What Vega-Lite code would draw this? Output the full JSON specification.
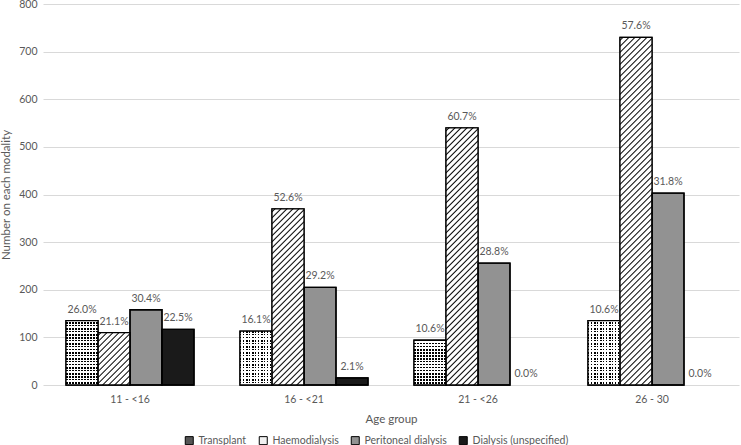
{
  "$schema": "https://vega.github.io/schema/vega-lite/v6.json",
  "width": 696,
  "height": 381,
  "autosize": {"type": "none"},
  "padding": {"left": 43, "top": 4, "right": 2, "bottom": 60},
  "background": "#ffffff",
  "config": {
    "view": {"stroke": null},
    "font": "Lato",
    "axisY": {"domain": false, "ticks": false, "grid": true, "gridColor": "#d9d9d9", "gridWidth": 1, "labelColor": "#595959", "labelFontSize": 10.5, "labelPadding": 6, "titleColor": "#595959", "titleFontSize": 11.5, "titleFontWeight": "normal", "titlePadding": 7},
    "axisX": {"domain": false, "ticks": false, "grid": false, "labelAngle": 0, "labelColor": "#595959", "labelFontSize": 10.5, "labelPadding": 9, "titleColor": "#595959", "titleFontSize": 11.5, "titleFontWeight": "normal", "titlePadding": 9}
  },
  "data": {"values": [
    {"group": "11 - <16", "modality": "Transplant", "value": 135, "pct": "26.0%"},
    {"group": "11 - <16", "modality": "Haemodialysis", "value": 110, "pct": "21.1%"},
    {"group": "11 - <16", "modality": "Peritoneal dialysis", "value": 158, "pct": "30.4%"},
    {"group": "11 - <16", "modality": "Dialysis (unspecified)", "value": 117, "pct": "22.5%"},
    {"group": "16 - <21", "modality": "Transplant", "value": 113, "pct": "16.1%"},
    {"group": "16 - <21", "modality": "Haemodialysis", "value": 370, "pct": "52.6%"},
    {"group": "16 - <21", "modality": "Peritoneal dialysis", "value": 205, "pct": "29.2%"},
    {"group": "16 - <21", "modality": "Dialysis (unspecified)", "value": 15, "pct": "2.1%"},
    {"group": "21 - <26", "modality": "Transplant", "value": 94, "pct": "10.6%"},
    {"group": "21 - <26", "modality": "Haemodialysis", "value": 540, "pct": "60.7%"},
    {"group": "21 - <26", "modality": "Peritoneal dialysis", "value": 256, "pct": "28.8%"},
    {"group": "21 - <26", "modality": "Dialysis (unspecified)", "value": 0, "pct": "0.0%"},
    {"group": "26 - 30", "modality": "Transplant", "value": 135, "pct": "10.6%"},
    {"group": "26 - 30", "modality": "Haemodialysis", "value": 730, "pct": "57.6%"},
    {"group": "26 - 30", "modality": "Peritoneal dialysis", "value": 403, "pct": "31.8%"},
    {"group": "26 - 30", "modality": "Dialysis (unspecified)", "value": 0, "pct": "0.0%"}
  ]},
  "encoding": {
    "x": {"field": "group", "type": "nominal", "sort": ["11 - <16", "16 - <21", "21 - <26", "26 - 30"], "scale": {"paddingInner": 0.264368, "paddingOuter": 0.132184}, "title": "Age group"},
    "xOffset": {"field": "modality", "type": "nominal", "sort": ["Transplant", "Haemodialysis", "Peritoneal dialysis", "Dialysis (unspecified)"], "scale": {"paddingInner": 0, "paddingOuter": 0}},
    "y": {"field": "value", "type": "quantitative", "scale": {"domain": [0, 800], "nice": false}, "axis": {"values": [0, 100, 200, 300, 400, 500, 600, 700, 800]}, "title": "Number on each modality"}
  },
  "layer": [
    {
      "transform": [{"filter": "datum.value > 0"}],
      "mark": {"type": "bar", "stroke": "#000000", "strokeWidth": 1.3},
      "encoding": {
        "color": {
          "field": "modality", "type": "nominal",
          "sort": ["Transplant", "Haemodialysis", "Peritoneal dialysis", "Dialysis (unspecified)"],
          "scale": {"domain": ["Transplant", "Haemodialysis", "Peritoneal dialysis", "Dialysis (unspecified)"], "range": ["#555555", "#f0f0f0", "#929292", "#1a1a1a"]},
          "legend": {
            "title": null, "orient": "none", "direction": "horizontal", "legendX": 141, "legendY": 431,
            "symbolType": "square", "symbolSize": 64, "symbolStrokeColor": "#000000", "symbolStrokeWidth": 1,
            "labelColor": "#595959", "labelFontSize": 10.5, "labelOffset": 4, "columnPadding": 10,
            "encode": {"symbols": {"update": {"stroke": {"value": "#000000"}, "strokeWidth": {"value": 1}}}}
          }
        }
      }
    },
    {
      "transform": [{"filter": "datum.modality === 'Transplant'"}],
      "mark": {"type": "bar", "strokeWidth": 0, "fill": {"gradient": "linear", "x1": 0, "y1": 0, "x2": 1, "y2": 0, "stops": [{"offset":0,"color":"#000"},{"offset":0.046875,"color":"#000"},{"offset":0.046875,"color":"#fff"},{"offset":0.09375,"color":"#fff"},{"offset":0.09375,"color":"#000"},{"offset":0.140625,"color":"#000"},{"offset":0.140625,"color":"#fff"},{"offset":0.1875,"color":"#fff"},{"offset":0.1875,"color":"#000"},{"offset":0.234375,"color":"#000"},{"offset":0.234375,"color":"#fff"},{"offset":0.28125,"color":"#fff"},{"offset":0.28125,"color":"#000"},{"offset":0.328125,"color":"#000"},{"offset":0.328125,"color":"#fff"},{"offset":0.375,"color":"#fff"},{"offset":0.375,"color":"#000"},{"offset":0.421875,"color":"#000"},{"offset":0.421875,"color":"#fff"},{"offset":0.46875,"color":"#fff"},{"offset":0.46875,"color":"#000"},{"offset":0.515625,"color":"#000"},{"offset":0.515625,"color":"#fff"},{"offset":0.5625,"color":"#fff"},{"offset":0.5625,"color":"#000"},{"offset":0.609375,"color":"#000"},{"offset":0.609375,"color":"#fff"},{"offset":0.65625,"color":"#fff"},{"offset":0.65625,"color":"#000"},{"offset":0.703125,"color":"#000"},{"offset":0.703125,"color":"#fff"},{"offset":0.75,"color":"#fff"},{"offset":0.75,"color":"#000"},{"offset":0.796875,"color":"#000"},{"offset":0.796875,"color":"#fff"},{"offset":0.84375,"color":"#fff"},{"offset":0.84375,"color":"#000"},{"offset":0.890625,"color":"#000"},{"offset":0.890625,"color":"#fff"},{"offset":0.9375,"color":"#fff"},{"offset":0.9375,"color":"#000"},{"offset":0.984375,"color":"#000"},{"offset":0.984375,"color":"#fff"},{"offset":1,"color":"#fff"}]}}
    },
    {
      "transform": [{"filter": "datum.modality === 'Transplant' && (datum.group === '11 - <16' || datum.group === '26 - 30')"}],
      "mark": {"type": "bar", "strokeWidth": 0, "fill": {"gradient": "linear", "x1": 0, "y1": 1, "x2": 0, "y2": 0, "stops": [
        {"offset":0,"color":"rgba(255,255,255,0)"},{"offset":0,"color":"#fff"},{"offset":0.0233,"color":"#fff"},{"offset":0.0233,"color":"rgba(255,255,255,0)"},
        {"offset":0.0467,"color":"rgba(255,255,255,0)"},{"offset":0.0467,"color":"#fff"},{"offset":0.0700,"color":"#fff"},{"offset":0.0700,"color":"rgba(255,255,255,0)"},
        {"offset":0.0933,"color":"rgba(255,255,255,0)"},{"offset":0.0933,"color":"#fff"},{"offset":0.1166,"color":"#fff"},{"offset":0.1166,"color":"rgba(255,255,255,0)"},
        {"offset":0.1400,"color":"rgba(255,255,255,0)"},{"offset":0.1400,"color":"#fff"},{"offset":0.1633,"color":"#fff"},{"offset":0.1633,"color":"rgba(255,255,255,0)"},
        {"offset":0.1866,"color":"rgba(255,255,255,0)"},{"offset":0.1866,"color":"#fff"},{"offset":0.2100,"color":"#fff"},{"offset":0.2100,"color":"rgba(255,255,255,0)"},
        {"offset":0.2333,"color":"rgba(255,255,255,0)"},{"offset":0.2333,"color":"#fff"},{"offset":0.2566,"color":"#fff"},{"offset":0.2566,"color":"rgba(255,255,255,0)"},
        {"offset":0.2800,"color":"rgba(255,255,255,0)"},{"offset":0.2800,"color":"#fff"},{"offset":0.3033,"color":"#fff"},{"offset":0.3033,"color":"rgba(255,255,255,0)"},
        {"offset":0.3266,"color":"rgba(255,255,255,0)"},{"offset":0.3266,"color":"#fff"},{"offset":0.3500,"color":"#fff"},{"offset":0.3500,"color":"rgba(255,255,255,0)"},
        {"offset":0.3733,"color":"rgba(255,255,255,0)"},{"offset":0.3733,"color":"#fff"},{"offset":0.3966,"color":"#fff"},{"offset":0.3966,"color":"rgba(255,255,255,0)"},
        {"offset":0.4199,"color":"rgba(255,255,255,0)"},{"offset":0.4199,"color":"#fff"},{"offset":0.4433,"color":"#fff"},{"offset":0.4433,"color":"rgba(255,255,255,0)"},
        {"offset":0.4666,"color":"rgba(255,255,255,0)"},{"offset":0.4666,"color":"#fff"},{"offset":0.4899,"color":"#fff"},{"offset":0.4899,"color":"rgba(255,255,255,0)"},
        {"offset":0.5133,"color":"rgba(255,255,255,0)"},{"offset":0.5133,"color":"#fff"},{"offset":0.5366,"color":"#fff"},{"offset":0.5366,"color":"rgba(255,255,255,0)"},
        {"offset":0.5599,"color":"rgba(255,255,255,0)"},{"offset":0.5599,"color":"#fff"},{"offset":0.5833,"color":"#fff"},{"offset":0.5833,"color":"rgba(255,255,255,0)"},
        {"offset":0.6066,"color":"rgba(255,255,255,0)"},{"offset":0.6066,"color":"#fff"},{"offset":0.6299,"color":"#fff"},{"offset":0.6299,"color":"rgba(255,255,255,0)"},
        {"offset":0.6533,"color":"rgba(255,255,255,0)"},{"offset":0.6533,"color":"#fff"},{"offset":0.6766,"color":"#fff"},{"offset":0.6766,"color":"rgba(255,255,255,0)"},
        {"offset":0.6999,"color":"rgba(255,255,255,0)"},{"offset":0.6999,"color":"#fff"},{"offset":0.7232,"color":"#fff"},{"offset":0.7232,"color":"rgba(255,255,255,0)"},
        {"offset":0.7466,"color":"rgba(255,255,255,0)"},{"offset":0.7466,"color":"#fff"},{"offset":0.7699,"color":"#fff"},{"offset":0.7699,"color":"rgba(255,255,255,0)"},
        {"offset":0.7932,"color":"rgba(255,255,255,0)"},{"offset":0.7932,"color":"#fff"},{"offset":0.8166,"color":"#fff"},{"offset":0.8166,"color":"rgba(255,255,255,0)"},
        {"offset":0.8399,"color":"rgba(255,255,255,0)"},{"offset":0.8399,"color":"#fff"},{"offset":0.8632,"color":"#fff"},{"offset":0.8632,"color":"rgba(255,255,255,0)"},
        {"offset":0.8866,"color":"rgba(255,255,255,0)"},{"offset":0.8866,"color":"#fff"},{"offset":0.9099,"color":"#fff"},{"offset":0.9099,"color":"rgba(255,255,255,0)"},
        {"offset":0.9332,"color":"rgba(255,255,255,0)"},{"offset":0.9332,"color":"#fff"},{"offset":0.9565,"color":"#fff"},{"offset":0.9565,"color":"rgba(255,255,255,0)"},
        {"offset":0.9799,"color":"rgba(255,255,255,0)"},{"offset":0.9799,"color":"#fff"},{"offset":1,"color":"#fff"}
      ]}}
    },
    {
      "transform": [{"filter": "datum.modality === 'Transplant' && datum.group === '16 - <21'"}],
      "mark": {"type": "bar", "strokeWidth": 0, "fill": {"gradient": "linear", "x1": 0, "y1": 1, "x2": 0, "y2": 0, "stops": [
        {"offset":0,"color":"rgba(255,255,255,0)"},{"offset":0,"color":"#fff"},{"offset":0.0279,"color":"#fff"},{"offset":0.0279,"color":"rgba(255,255,255,0)"},
        {"offset":0.0557,"color":"rgba(255,255,255,0)"},{"offset":0.0557,"color":"#fff"},{"offset":0.0836,"color":"#fff"},{"offset":0.0836,"color":"rgba(255,255,255,0)"},
        {"offset":0.1115,"color":"rgba(255,255,255,0)"},{"offset":0.1115,"color":"#fff"},{"offset":0.1394,"color":"#fff"},{"offset":0.1394,"color":"rgba(255,255,255,0)"},
        {"offset":0.1672,"color":"rgba(255,255,255,0)"},{"offset":0.1672,"color":"#fff"},{"offset":0.1951,"color":"#fff"},{"offset":0.1951,"color":"rgba(255,255,255,0)"},
        {"offset":0.2230,"color":"rgba(255,255,255,0)"},{"offset":0.2230,"color":"#fff"},{"offset":0.2509,"color":"#fff"},{"offset":0.2509,"color":"rgba(255,255,255,0)"},
        {"offset":0.2787,"color":"rgba(255,255,255,0)"},{"offset":0.2787,"color":"#fff"},{"offset":0.3066,"color":"#fff"},{"offset":0.3066,"color":"rgba(255,255,255,0)"},
        {"offset":0.3345,"color":"rgba(255,255,255,0)"},{"offset":0.3345,"color":"#fff"},{"offset":0.3623,"color":"#fff"},{"offset":0.3623,"color":"rgba(255,255,255,0)"},
        {"offset":0.3902,"color":"rgba(255,255,255,0)"},{"offset":0.3902,"color":"#fff"},{"offset":0.4181,"color":"#fff"},{"offset":0.4181,"color":"rgba(255,255,255,0)"},
        {"offset":0.4460,"color":"rgba(255,255,255,0)"},{"offset":0.4460,"color":"#fff"},{"offset":0.4738,"color":"#fff"},{"offset":0.4738,"color":"rgba(255,255,255,0)"},
        {"offset":0.5017,"color":"rgba(255,255,255,0)"},{"offset":0.5017,"color":"#fff"},{"offset":0.5296,"color":"#fff"},{"offset":0.5296,"color":"rgba(255,255,255,0)"},
        {"offset":0.5575,"color":"rgba(255,255,255,0)"},{"offset":0.5575,"color":"#fff"},{"offset":0.5853,"color":"#fff"},{"offset":0.5853,"color":"rgba(255,255,255,0)"},
        {"offset":0.6132,"color":"rgba(255,255,255,0)"},{"offset":0.6132,"color":"#fff"},{"offset":0.6411,"color":"#fff"},{"offset":0.6411,"color":"rgba(255,255,255,0)"},
        {"offset":0.6689,"color":"rgba(255,255,255,0)"},{"offset":0.6689,"color":"#fff"},{"offset":0.6968,"color":"#fff"},{"offset":0.6968,"color":"rgba(255,255,255,0)"},
        {"offset":0.7247,"color":"rgba(255,255,255,0)"},{"offset":0.7247,"color":"#fff"},{"offset":0.7526,"color":"#fff"},{"offset":0.7526,"color":"rgba(255,255,255,0)"},
        {"offset":0.7804,"color":"rgba(255,255,255,0)"},{"offset":0.7804,"color":"#fff"},{"offset":0.8083,"color":"#fff"},{"offset":0.8083,"color":"rgba(255,255,255,0)"},
        {"offset":0.8362,"color":"rgba(255,255,255,0)"},{"offset":0.8362,"color":"#fff"},{"offset":0.8641,"color":"#fff"},{"offset":0.8641,"color":"rgba(255,255,255,0)"},
        {"offset":0.8919,"color":"rgba(255,255,255,0)"},{"offset":0.8919,"color":"#fff"},{"offset":0.9198,"color":"#fff"},{"offset":0.9198,"color":"rgba(255,255,255,0)"},
        {"offset":0.9477,"color":"rgba(255,255,255,0)"},{"offset":0.9477,"color":"#fff"},{"offset":0.9755,"color":"#fff"},{"offset":0.9755,"color":"rgba(255,255,255,0)"},
        {"offset":1,"color":"rgba(255,255,255,0)"}
      ]}}
    },
    {
      "transform": [{"filter": "datum.modality === 'Transplant' && datum.group === '21 - <26'"}],
      "mark": {"type": "bar", "strokeWidth": 0, "fill": {"gradient": "linear", "x1": 0, "y1": 1, "x2": 0, "y2": 0, "stops": [
        {"offset":0,"color":"rgba(255,255,255,0)"},{"offset":0,"color":"#fff"},{"offset":0.0335,"color":"#fff"},{"offset":0.0335,"color":"rgba(255,255,255,0)"},
        {"offset":0.0670,"color":"rgba(255,255,255,0)"},{"offset":0.0670,"color":"#fff"},{"offset":0.1005,"color":"#fff"},{"offset":0.1005,"color":"rgba(255,255,255,0)"},
        {"offset":0.1340,"color":"rgba(255,255,255,0)"},{"offset":0.1340,"color":"#fff"},{"offset":0.1675,"color":"#fff"},{"offset":0.1675,"color":"rgba(255,255,255,0)"},
        {"offset":0.2010,"color":"rgba(255,255,255,0)"},{"offset":0.2010,"color":"#fff"},{"offset":0.2345,"color":"#fff"},{"offset":0.2345,"color":"rgba(255,255,255,0)"},
        {"offset":0.2681,"color":"rgba(255,255,255,0)"},{"offset":0.2681,"color":"#fff"},{"offset":0.3016,"color":"#fff"},{"offset":0.3016,"color":"rgba(255,255,255,0)"},
        {"offset":0.3351,"color":"rgba(255,255,255,0)"},{"offset":0.3351,"color":"#fff"},{"offset":0.3686,"color":"#fff"},{"offset":0.3686,"color":"rgba(255,255,255,0)"},
        {"offset":0.4021,"color":"rgba(255,255,255,0)"},{"offset":0.4021,"color":"#fff"},{"offset":0.4356,"color":"#fff"},{"offset":0.4356,"color":"rgba(255,255,255,0)"},
        {"offset":0.4691,"color":"rgba(255,255,255,0)"},{"offset":0.4691,"color":"#fff"},{"offset":0.5026,"color":"#fff"},{"offset":0.5026,"color":"rgba(255,255,255,0)"},
        {"offset":0.5361,"color":"rgba(255,255,255,0)"},{"offset":0.5361,"color":"#fff"},{"offset":0.5696,"color":"#fff"},{"offset":0.5696,"color":"rgba(255,255,255,0)"},
        {"offset":0.6031,"color":"rgba(255,255,255,0)"},{"offset":0.6031,"color":"#fff"},{"offset":0.6366,"color":"#fff"},{"offset":0.6366,"color":"rgba(255,255,255,0)"},
        {"offset":0.6701,"color":"rgba(255,255,255,0)"},{"offset":0.6701,"color":"#fff"},{"offset":0.7036,"color":"#fff"},{"offset":0.7036,"color":"rgba(255,255,255,0)"},
        {"offset":0.7371,"color":"rgba(255,255,255,0)"},{"offset":0.7371,"color":"#fff"},{"offset":0.7706,"color":"#fff"},{"offset":0.7706,"color":"rgba(255,255,255,0)"},
        {"offset":0.8042,"color":"rgba(255,255,255,0)"},{"offset":0.8042,"color":"#fff"},{"offset":0.8377,"color":"#fff"},{"offset":0.8377,"color":"rgba(255,255,255,0)"},
        {"offset":0.8712,"color":"rgba(255,255,255,0)"},{"offset":0.8712,"color":"#fff"},{"offset":0.9047,"color":"#fff"},{"offset":0.9047,"color":"rgba(255,255,255,0)"},
        {"offset":0.9382,"color":"rgba(255,255,255,0)"},{"offset":0.9382,"color":"#fff"},{"offset":0.9717,"color":"#fff"},{"offset":0.9717,"color":"rgba(255,255,255,0)"},
        {"offset":1,"color":"rgba(255,255,255,0)"}
      ]}}
    },
    {
      "transform": [{"filter": "datum.modality === 'Haemodialysis' && datum.group === '11 - <16'"}],
      "mark": {"type": "bar", "strokeWidth": 0, "fill": {"gradient": "linear", "x1": 0, "y1": 0, "x2": 0.71658, "y2": 1.17311, "stops": [
        {"offset":0.0190,"color":"#fff"},{"offset":0.0356,"color":"#000"},{"offset":0.0521,"color":"#fff"},
        {"offset":0.0901,"color":"#fff"},{"offset":0.1067,"color":"#000"},{"offset":0.1232,"color":"#fff"},
        {"offset":0.1612,"color":"#fff"},{"offset":0.1778,"color":"#000"},{"offset":0.1943,"color":"#fff"},
        {"offset":0.2323,"color":"#fff"},{"offset":0.2489,"color":"#000"},{"offset":0.2654,"color":"#fff"},
        {"offset":0.3034,"color":"#fff"},{"offset":0.3200,"color":"#000"},{"offset":0.3365,"color":"#fff"},
        {"offset":0.3745,"color":"#fff"},{"offset":0.3911,"color":"#000"},{"offset":0.4076,"color":"#fff"},
        {"offset":0.4456,"color":"#fff"},{"offset":0.4622,"color":"#000"},{"offset":0.4787,"color":"#fff"},
        {"offset":0.5167,"color":"#fff"},{"offset":0.5333,"color":"#000"},{"offset":0.5498,"color":"#fff"},
        {"offset":0.5878,"color":"#fff"},{"offset":0.6044,"color":"#000"},{"offset":0.6209,"color":"#fff"},
        {"offset":0.6589,"color":"#fff"},{"offset":0.6755,"color":"#000"},{"offset":0.6920,"color":"#fff"},
        {"offset":0.7300,"color":"#fff"},{"offset":0.7466,"color":"#000"},{"offset":0.7631,"color":"#fff"},
        {"offset":0.8011,"color":"#fff"},{"offset":0.8177,"color":"#000"},{"offset":0.8342,"color":"#fff"},
        {"offset":0.8722,"color":"#fff"},{"offset":0.8888,"color":"#000"},{"offset":0.9053,"color":"#fff"},
        {"offset":0.9433,"color":"#fff"},{"offset":0.9599,"color":"#000"},{"offset":0.9764,"color":"#fff"}
      ]}}
    },
    {
      "transform": [{"filter": "datum.modality === 'Haemodialysis' && datum.group === '16 - <21'"}],
      "mark": {"type": "bar", "strokeWidth": 0, "fill": {"gradient": "linear", "x1": 0, "y1": 0, "x2": 0.20773, "y2": 1.14386, "stops": [
        {"offset":0.0077,"color":"#fff"},{"offset":0.0144,"color":"#000"},{"offset":0.0211,"color":"#fff"},
        {"offset":0.0365,"color":"#fff"},{"offset":0.0432,"color":"#000"},{"offset":0.0499,"color":"#fff"},
        {"offset":0.0653,"color":"#fff"},{"offset":0.0720,"color":"#000"},{"offset":0.0788,"color":"#fff"},
        {"offset":0.0941,"color":"#fff"},{"offset":0.1009,"color":"#000"},{"offset":0.1076,"color":"#fff"},
        {"offset":0.1230,"color":"#fff"},{"offset":0.1297,"color":"#000"},{"offset":0.1364,"color":"#fff"},
        {"offset":0.1518,"color":"#fff"},{"offset":0.1585,"color":"#000"},{"offset":0.1652,"color":"#fff"},
        {"offset":0.1806,"color":"#fff"},{"offset":0.1873,"color":"#000"},{"offset":0.1940,"color":"#fff"},
        {"offset":0.2094,"color":"#fff"},{"offset":0.2161,"color":"#000"},{"offset":0.2229,"color":"#fff"},
        {"offset":0.2382,"color":"#fff"},{"offset":0.2449,"color":"#000"},{"offset":0.2517,"color":"#fff"},
        {"offset":0.2670,"color":"#fff"},{"offset":0.2738,"color":"#000"},{"offset":0.2805,"color":"#fff"},
        {"offset":0.2959,"color":"#fff"},{"offset":0.3026,"color":"#000"},{"offset":0.3093,"color":"#fff"},
        {"offset":0.3247,"color":"#fff"},{"offset":0.3314,"color":"#000"},{"offset":0.3381,"color":"#fff"},
        {"offset":0.3535,"color":"#fff"},{"offset":0.3602,"color":"#000"},{"offset":0.3669,"color":"#fff"},
        {"offset":0.3823,"color":"#fff"},{"offset":0.3890,"color":"#000"},{"offset":0.3957,"color":"#fff"},
        {"offset":0.4111,"color":"#fff"},{"offset":0.4178,"color":"#000"},{"offset":0.4246,"color":"#fff"},
        {"offset":0.4399,"color":"#fff"},{"offset":0.4467,"color":"#000"},{"offset":0.4534,"color":"#fff"},
        {"offset":0.4688,"color":"#fff"},{"offset":0.4755,"color":"#000"},{"offset":0.4822,"color":"#fff"},
        {"offset":0.4976,"color":"#fff"},{"offset":0.5043,"color":"#000"},{"offset":0.5110,"color":"#fff"},
        {"offset":0.5264,"color":"#fff"},{"offset":0.5331,"color":"#000"},{"offset":0.5398,"color":"#fff"},
        {"offset":0.5552,"color":"#fff"},{"offset":0.5619,"color":"#000"},{"offset":0.5687,"color":"#fff"},
        {"offset":0.5840,"color":"#fff"},{"offset":0.5907,"color":"#000"},{"offset":0.5975,"color":"#fff"},
        {"offset":0.6128,"color":"#fff"},{"offset":0.6196,"color":"#000"},{"offset":0.6263,"color":"#fff"},
        {"offset":0.6417,"color":"#fff"},{"offset":0.6484,"color":"#000"},{"offset":0.6551,"color":"#fff"},
        {"offset":0.6705,"color":"#fff"},{"offset":0.6772,"color":"#000"},{"offset":0.6839,"color":"#fff"},
        {"offset":0.6993,"color":"#fff"},{"offset":0.7060,"color":"#000"},{"offset":0.7127,"color":"#fff"},
        {"offset":0.7281,"color":"#fff"},{"offset":0.7348,"color":"#000"},{"offset":0.7415,"color":"#fff"},
        {"offset":0.7569,"color":"#fff"},{"offset":0.7636,"color":"#000"},{"offset":0.7704,"color":"#fff"},
        {"offset":0.7857,"color":"#fff"},{"offset":0.7925,"color":"#000"},{"offset":0.7992,"color":"#fff"},
        {"offset":0.8146,"color":"#fff"},{"offset":0.8213,"color":"#000"},{"offset":0.8280,"color":"#fff"},
        {"offset":0.8434,"color":"#fff"},{"offset":0.8501,"color":"#000"},{"offset":0.8568,"color":"#fff"},
        {"offset":0.8722,"color":"#fff"},{"offset":0.8789,"color":"#000"},{"offset":0.8856,"color":"#fff"},
        {"offset":0.9010,"color":"#fff"},{"offset":0.9077,"color":"#000"},{"offset":0.9144,"color":"#fff"},
        {"offset":0.9298,"color":"#fff"},{"offset":0.9365,"color":"#000"},{"offset":0.9433,"color":"#fff"},
        {"offset":0.9586,"color":"#fff"},{"offset":0.9654,"color":"#000"},{"offset":0.9721,"color":"#fff"}
      ]}}
    },
    {
      "transform": [{"filter": "datum.modality === 'Haemodialysis' && datum.group === '21 - <26'"}],
      "mark": {"type": "bar", "strokeWidth": 0, "fill": {"gradient": "linear", "x1": 0, "y1": 0, "x2": 0.13778, "y2": 1.10729, "stops": [
        {"offset":0.0055,"color":"#fff"},{"offset":0.0104,"color":"#000"},{"offset":0.0152,"color":"#fff"},
        {"offset":0.0263,"color":"#fff"},{"offset":0.0311,"color":"#000"},{"offset":0.0360,"color":"#fff"},
        {"offset":0.0470,"color":"#fff"},{"offset":0.0519,"color":"#000"},{"offset":0.0567,"color":"#fff"},
        {"offset":0.0678,"color":"#fff"},{"offset":0.0726,"color":"#000"},{"offset":0.0775,"color":"#fff"},
        {"offset":0.0885,"color":"#fff"},{"offset":0.0934,"color":"#000"},{"offset":0.0982,"color":"#fff"},
        {"offset":0.1093,"color":"#fff"},{"offset":0.1141,"color":"#000"},{"offset":0.1190,"color":"#fff"},
        {"offset":0.1300,"color":"#fff"},{"offset":0.1349,"color":"#000"},{"offset":0.1397,"color":"#fff"},
        {"offset":0.1508,"color":"#fff"},{"offset":0.1556,"color":"#000"},{"offset":0.1605,"color":"#fff"},
        {"offset":0.1715,"color":"#fff"},{"offset":0.1764,"color":"#000"},{"offset":0.1812,"color":"#fff"},
        {"offset":0.1923,"color":"#fff"},{"offset":0.1971,"color":"#000"},{"offset":0.2020,"color":"#fff"},
        {"offset":0.2130,"color":"#fff"},{"offset":0.2179,"color":"#000"},{"offset":0.2227,"color":"#fff"},
        {"offset":0.2338,"color":"#fff"},{"offset":0.2386,"color":"#000"},{"offset":0.2435,"color":"#fff"},
        {"offset":0.2545,"color":"#fff"},{"offset":0.2594,"color":"#000"},{"offset":0.2642,"color":"#fff"},
        {"offset":0.2753,"color":"#fff"},{"offset":0.2801,"color":"#000"},{"offset":0.2849,"color":"#fff"},
        {"offset":0.2960,"color":"#fff"},{"offset":0.3009,"color":"#000"},{"offset":0.3057,"color":"#fff"},
        {"offset":0.3168,"color":"#fff"},{"offset":0.3216,"color":"#000"},{"offset":0.3264,"color":"#fff"},
        {"offset":0.3375,"color":"#fff"},{"offset":0.3424,"color":"#000"},{"offset":0.3472,"color":"#fff"},
        {"offset":0.3583,"color":"#fff"},{"offset":0.3631,"color":"#000"},{"offset":0.3679,"color":"#fff"},
        {"offset":0.3790,"color":"#fff"},{"offset":0.3839,"color":"#000"},{"offset":0.3887,"color":"#fff"},
        {"offset":0.3998,"color":"#fff"},{"offset":0.4046,"color":"#000"},{"offset":0.4094,"color":"#fff"},
        {"offset":0.4205,"color":"#fff"},{"offset":0.4253,"color":"#000"},{"offset":0.4302,"color":"#fff"},
        {"offset":0.4413,"color":"#fff"},{"offset":0.4461,"color":"#000"},{"offset":0.4509,"color":"#fff"},
        {"offset":0.4620,"color":"#fff"},{"offset":0.4668,"color":"#000"},{"offset":0.4717,"color":"#fff"},
        {"offset":0.4828,"color":"#fff"},{"offset":0.4876,"color":"#000"},{"offset":0.4924,"color":"#fff"},
        {"offset":0.5035,"color":"#fff"},{"offset":0.5083,"color":"#000"},{"offset":0.5132,"color":"#fff"},
        {"offset":0.5243,"color":"#fff"},{"offset":0.5291,"color":"#000"},{"offset":0.5339,"color":"#fff"},
        {"offset":0.5450,"color":"#fff"},{"offset":0.5498,"color":"#000"},{"offset":0.5547,"color":"#fff"},
        {"offset":0.5658,"color":"#fff"},{"offset":0.5706,"color":"#000"},{"offset":0.5754,"color":"#fff"},
        {"offset":0.5865,"color":"#fff"},{"offset":0.5913,"color":"#000"},{"offset":0.5962,"color":"#fff"},
        {"offset":0.6072,"color":"#fff"},{"offset":0.6121,"color":"#000"},{"offset":0.6169,"color":"#fff"},
        {"offset":0.6280,"color":"#fff"},{"offset":0.6328,"color":"#000"},{"offset":0.6377,"color":"#fff"},
        {"offset":0.6487,"color":"#fff"},{"offset":0.6536,"color":"#000"},{"offset":0.6584,"color":"#fff"},
        {"offset":0.6695,"color":"#fff"},{"offset":0.6743,"color":"#000"},{"offset":0.6792,"color":"#fff"},
        {"offset":0.6902,"color":"#fff"},{"offset":0.6951,"color":"#000"},{"offset":0.6999,"color":"#fff"},
        {"offset":0.7110,"color":"#fff"},{"offset":0.7158,"color":"#000"},{"offset":0.7207,"color":"#fff"},
        {"offset":0.7317,"color":"#fff"},{"offset":0.7366,"color":"#000"},{"offset":0.7414,"color":"#fff"},
        {"offset":0.7525,"color":"#fff"},{"offset":0.7573,"color":"#000"},{"offset":0.7622,"color":"#fff"},
        {"offset":0.7732,"color":"#fff"},{"offset":0.7781,"color":"#000"},{"offset":0.7829,"color":"#fff"},
        {"offset":0.7940,"color":"#fff"},{"offset":0.7988,"color":"#000"},{"offset":0.8037,"color":"#fff"},
        {"offset":0.8147,"color":"#fff"},{"offset":0.8196,"color":"#000"},{"offset":0.8244,"color":"#fff"},
        {"offset":0.8355,"color":"#fff"},{"offset":0.8403,"color":"#000"},{"offset":0.8452,"color":"#fff"},
        {"offset":0.8562,"color":"#fff"},{"offset":0.8611,"color":"#000"},{"offset":0.8659,"color":"#fff"},
        {"offset":0.8770,"color":"#fff"},{"offset":0.8818,"color":"#000"},{"offset":0.8867,"color":"#fff"},
        {"offset":0.8977,"color":"#fff"},{"offset":0.9026,"color":"#000"},{"offset":0.9074,"color":"#fff"},
        {"offset":0.9185,"color":"#fff"},{"offset":0.9233,"color":"#000"},{"offset":0.9282,"color":"#fff"},
        {"offset":0.9392,"color":"#fff"},{"offset":0.9441,"color":"#000"},{"offset":0.9489,"color":"#fff"},
        {"offset":0.9600,"color":"#fff"},{"offset":0.9648,"color":"#000"},{"offset":0.9697,"color":"#fff"},
        {"offset":0.9807,"color":"#fff"},{"offset":0.9856,"color":"#000"},{"offset":0.9904,"color":"#fff"}
      ]}}
    },
    {
      "transform": [{"filter": "datum.modality === 'Haemodialysis' && datum.group === '26 - 30'"}],
      "mark": {"type": "bar", "strokeWidth": 0, "fill": {"gradient": "linear", "x1": 0, "y1": 0, "x2": 0.09967, "y2": 1.08286, "stops": [
        {"offset":0.0042,"color":"#fff"},{"offset":0.0079,"color":"#000"},{"offset":0.0116,"color":"#fff"},
        {"offset":0.0200,"color":"#fff"},{"offset":0.0237,"color":"#000"},{"offset":0.0274,"color":"#fff"},
        {"offset":0.0358,"color":"#fff"},{"offset":0.0395,"color":"#000"},{"offset":0.0432,"color":"#fff"},
        {"offset":0.0516,"color":"#fff"},{"offset":0.0553,"color":"#000"},{"offset":0.0590,"color":"#fff"},
        {"offset":0.0674,"color":"#fff"},{"offset":0.0711,"color":"#000"},{"offset":0.0748,"color":"#fff"},
        {"offset":0.0832,"color":"#fff"},{"offset":0.0869,"color":"#000"},{"offset":0.0906,"color":"#fff"},
        {"offset":0.0990,"color":"#fff"},{"offset":0.1027,"color":"#000"},{"offset":0.1064,"color":"#fff"},
        {"offset":0.1148,"color":"#fff"},{"offset":0.1185,"color":"#000"},{"offset":0.1222,"color":"#fff"},
        {"offset":0.1306,"color":"#fff"},{"offset":0.1343,"color":"#000"},{"offset":0.1380,"color":"#fff"},
        {"offset":0.1464,"color":"#fff"},{"offset":0.1501,"color":"#000"},{"offset":0.1538,"color":"#fff"},
        {"offset":0.1622,"color":"#fff"},{"offset":0.1659,"color":"#000"},{"offset":0.1696,"color":"#fff"},
        {"offset":0.1781,"color":"#fff"},{"offset":0.1817,"color":"#000"},{"offset":0.1854,"color":"#fff"},
        {"offset":0.1939,"color":"#fff"},{"offset":0.1975,"color":"#000"},{"offset":0.2012,"color":"#fff"},
        {"offset":0.2097,"color":"#fff"},{"offset":0.2134,"color":"#000"},{"offset":0.2170,"color":"#fff"},
        {"offset":0.2255,"color":"#fff"},{"offset":0.2292,"color":"#000"},{"offset":0.2328,"color":"#fff"},
        {"offset":0.2413,"color":"#fff"},{"offset":0.2450,"color":"#000"},{"offset":0.2486,"color":"#fff"},
        {"offset":0.2571,"color":"#fff"},{"offset":0.2608,"color":"#000"},{"offset":0.2644,"color":"#fff"},
        {"offset":0.2729,"color":"#fff"},{"offset":0.2766,"color":"#000"},{"offset":0.2802,"color":"#fff"},
        {"offset":0.2887,"color":"#fff"},{"offset":0.2924,"color":"#000"},{"offset":0.2960,"color":"#fff"},
        {"offset":0.3045,"color":"#fff"},{"offset":0.3082,"color":"#000"},{"offset":0.3119,"color":"#fff"},
        {"offset":0.3203,"color":"#fff"},{"offset":0.3240,"color":"#000"},{"offset":0.3277,"color":"#fff"},
        {"offset":0.3361,"color":"#fff"},{"offset":0.3398,"color":"#000"},{"offset":0.3435,"color":"#fff"},
        {"offset":0.3519,"color":"#fff"},{"offset":0.3556,"color":"#000"},{"offset":0.3593,"color":"#fff"},
        {"offset":0.3677,"color":"#fff"},{"offset":0.3714,"color":"#000"},{"offset":0.3751,"color":"#fff"},
        {"offset":0.3835,"color":"#fff"},{"offset":0.3872,"color":"#000"},{"offset":0.3909,"color":"#fff"},
        {"offset":0.3993,"color":"#fff"},{"offset":0.4030,"color":"#000"},{"offset":0.4067,"color":"#fff"},
        {"offset":0.4151,"color":"#fff"},{"offset":0.4188,"color":"#000"},{"offset":0.4225,"color":"#fff"},
        {"offset":0.4309,"color":"#fff"},{"offset":0.4346,"color":"#000"},{"offset":0.4383,"color":"#fff"},
        {"offset":0.4467,"color":"#fff"},{"offset":0.4504,"color":"#000"},{"offset":0.4541,"color":"#fff"},
        {"offset":0.4625,"color":"#fff"},{"offset":0.4662,"color":"#000"},{"offset":0.4699,"color":"#fff"},
        {"offset":0.4783,"color":"#fff"},{"offset":0.4820,"color":"#000"},{"offset":0.4857,"color":"#fff"},
        {"offset":0.4941,"color":"#fff"},{"offset":0.4978,"color":"#000"},{"offset":0.5015,"color":"#fff"},
        {"offset":0.5099,"color":"#fff"},{"offset":0.5136,"color":"#000"},{"offset":0.5173,"color":"#fff"},
        {"offset":0.5257,"color":"#fff"},{"offset":0.5294,"color":"#000"},{"offset":0.5331,"color":"#fff"},
        {"offset":0.5415,"color":"#fff"},{"offset":0.5452,"color":"#000"},{"offset":0.5489,"color":"#fff"},
        {"offset":0.5573,"color":"#fff"},{"offset":0.5610,"color":"#000"},{"offset":0.5647,"color":"#fff"},
        {"offset":0.5731,"color":"#fff"},{"offset":0.5768,"color":"#000"},{"offset":0.5805,"color":"#fff"},
        {"offset":0.5889,"color":"#fff"},{"offset":0.5926,"color":"#000"},{"offset":0.5963,"color":"#fff"},
        {"offset":0.6047,"color":"#fff"},{"offset":0.6084,"color":"#000"},{"offset":0.6121,"color":"#fff"},
        {"offset":0.6206,"color":"#fff"},{"offset":0.6242,"color":"#000"},{"offset":0.6279,"color":"#fff"},
        {"offset":0.6364,"color":"#fff"},{"offset":0.6400,"color":"#000"},{"offset":0.6437,"color":"#fff"},
        {"offset":0.6522,"color":"#fff"},{"offset":0.6559,"color":"#000"},{"offset":0.6595,"color":"#fff"},
        {"offset":0.6680,"color":"#fff"},{"offset":0.6717,"color":"#000"},{"offset":0.6753,"color":"#fff"},
        {"offset":0.6838,"color":"#fff"},{"offset":0.6875,"color":"#000"},{"offset":0.6911,"color":"#fff"},
        {"offset":0.6996,"color":"#fff"},{"offset":0.7033,"color":"#000"},{"offset":0.7069,"color":"#fff"},
        {"offset":0.7154,"color":"#fff"},{"offset":0.7191,"color":"#000"},{"offset":0.7227,"color":"#fff"},
        {"offset":0.7312,"color":"#fff"},{"offset":0.7349,"color":"#000"},{"offset":0.7385,"color":"#fff"},
        {"offset":0.7470,"color":"#fff"},{"offset":0.7507,"color":"#000"},{"offset":0.7544,"color":"#fff"},
        {"offset":0.7628,"color":"#fff"},{"offset":0.7665,"color":"#000"},{"offset":0.7702,"color":"#fff"},
        {"offset":0.7786,"color":"#fff"},{"offset":0.7823,"color":"#000"},{"offset":0.7860,"color":"#fff"},
        {"offset":0.7944,"color":"#fff"},{"offset":0.7981,"color":"#000"},{"offset":0.8018,"color":"#fff"},
        {"offset":0.8102,"color":"#fff"},{"offset":0.8139,"color":"#000"},{"offset":0.8176,"color":"#fff"},
        {"offset":0.8260,"color":"#fff"},{"offset":0.8297,"color":"#000"},{"offset":0.8334,"color":"#fff"},
        {"offset":0.8418,"color":"#fff"},{"offset":0.8455,"color":"#000"},{"offset":0.8492,"color":"#fff"},
        {"offset":0.8576,"color":"#fff"},{"offset":0.8613,"color":"#000"},{"offset":0.8650,"color":"#fff"},
        {"offset":0.8734,"color":"#fff"},{"offset":0.8771,"color":"#000"},{"offset":0.8808,"color":"#fff"},
        {"offset":0.8892,"color":"#fff"},{"offset":0.8929,"color":"#000"},{"offset":0.8966,"color":"#fff"},
        {"offset":0.9050,"color":"#fff"},{"offset":0.9087,"color":"#000"},{"offset":0.9124,"color":"#fff"},
        {"offset":0.9208,"color":"#fff"},{"offset":0.9245,"color":"#000"},{"offset":0.9282,"color":"#fff"},
        {"offset":0.9366,"color":"#fff"},{"offset":0.9403,"color":"#000"},{"offset":0.9440,"color":"#fff"},
        {"offset":0.9524,"color":"#fff"},{"offset":0.9561,"color":"#000"},{"offset":0.9598,"color":"#fff"},
        {"offset":0.9682,"color":"#fff"},{"offset":0.9719,"color":"#000"},{"offset":0.9756,"color":"#fff"},
        {"offset":0.9840,"color":"#fff"},{"offset":0.9877,"color":"#000"},{"offset":0.9914,"color":"#fff"}
      ]}}
    },
    {
      "transform": [{"filter": "datum.value > 0"}],
      "mark": {"type": "bar", "fill": "transparent", "stroke": "#000000", "strokeWidth": 1.3}
    },
    {
      "mark": {"type": "text", "baseline": "bottom", "dy": -6, "fontSize": 10.5, "color": "#595959"},
      "encoding": {"text": {"field": "pct", "type": "nominal"}}
    }
  ]
}
